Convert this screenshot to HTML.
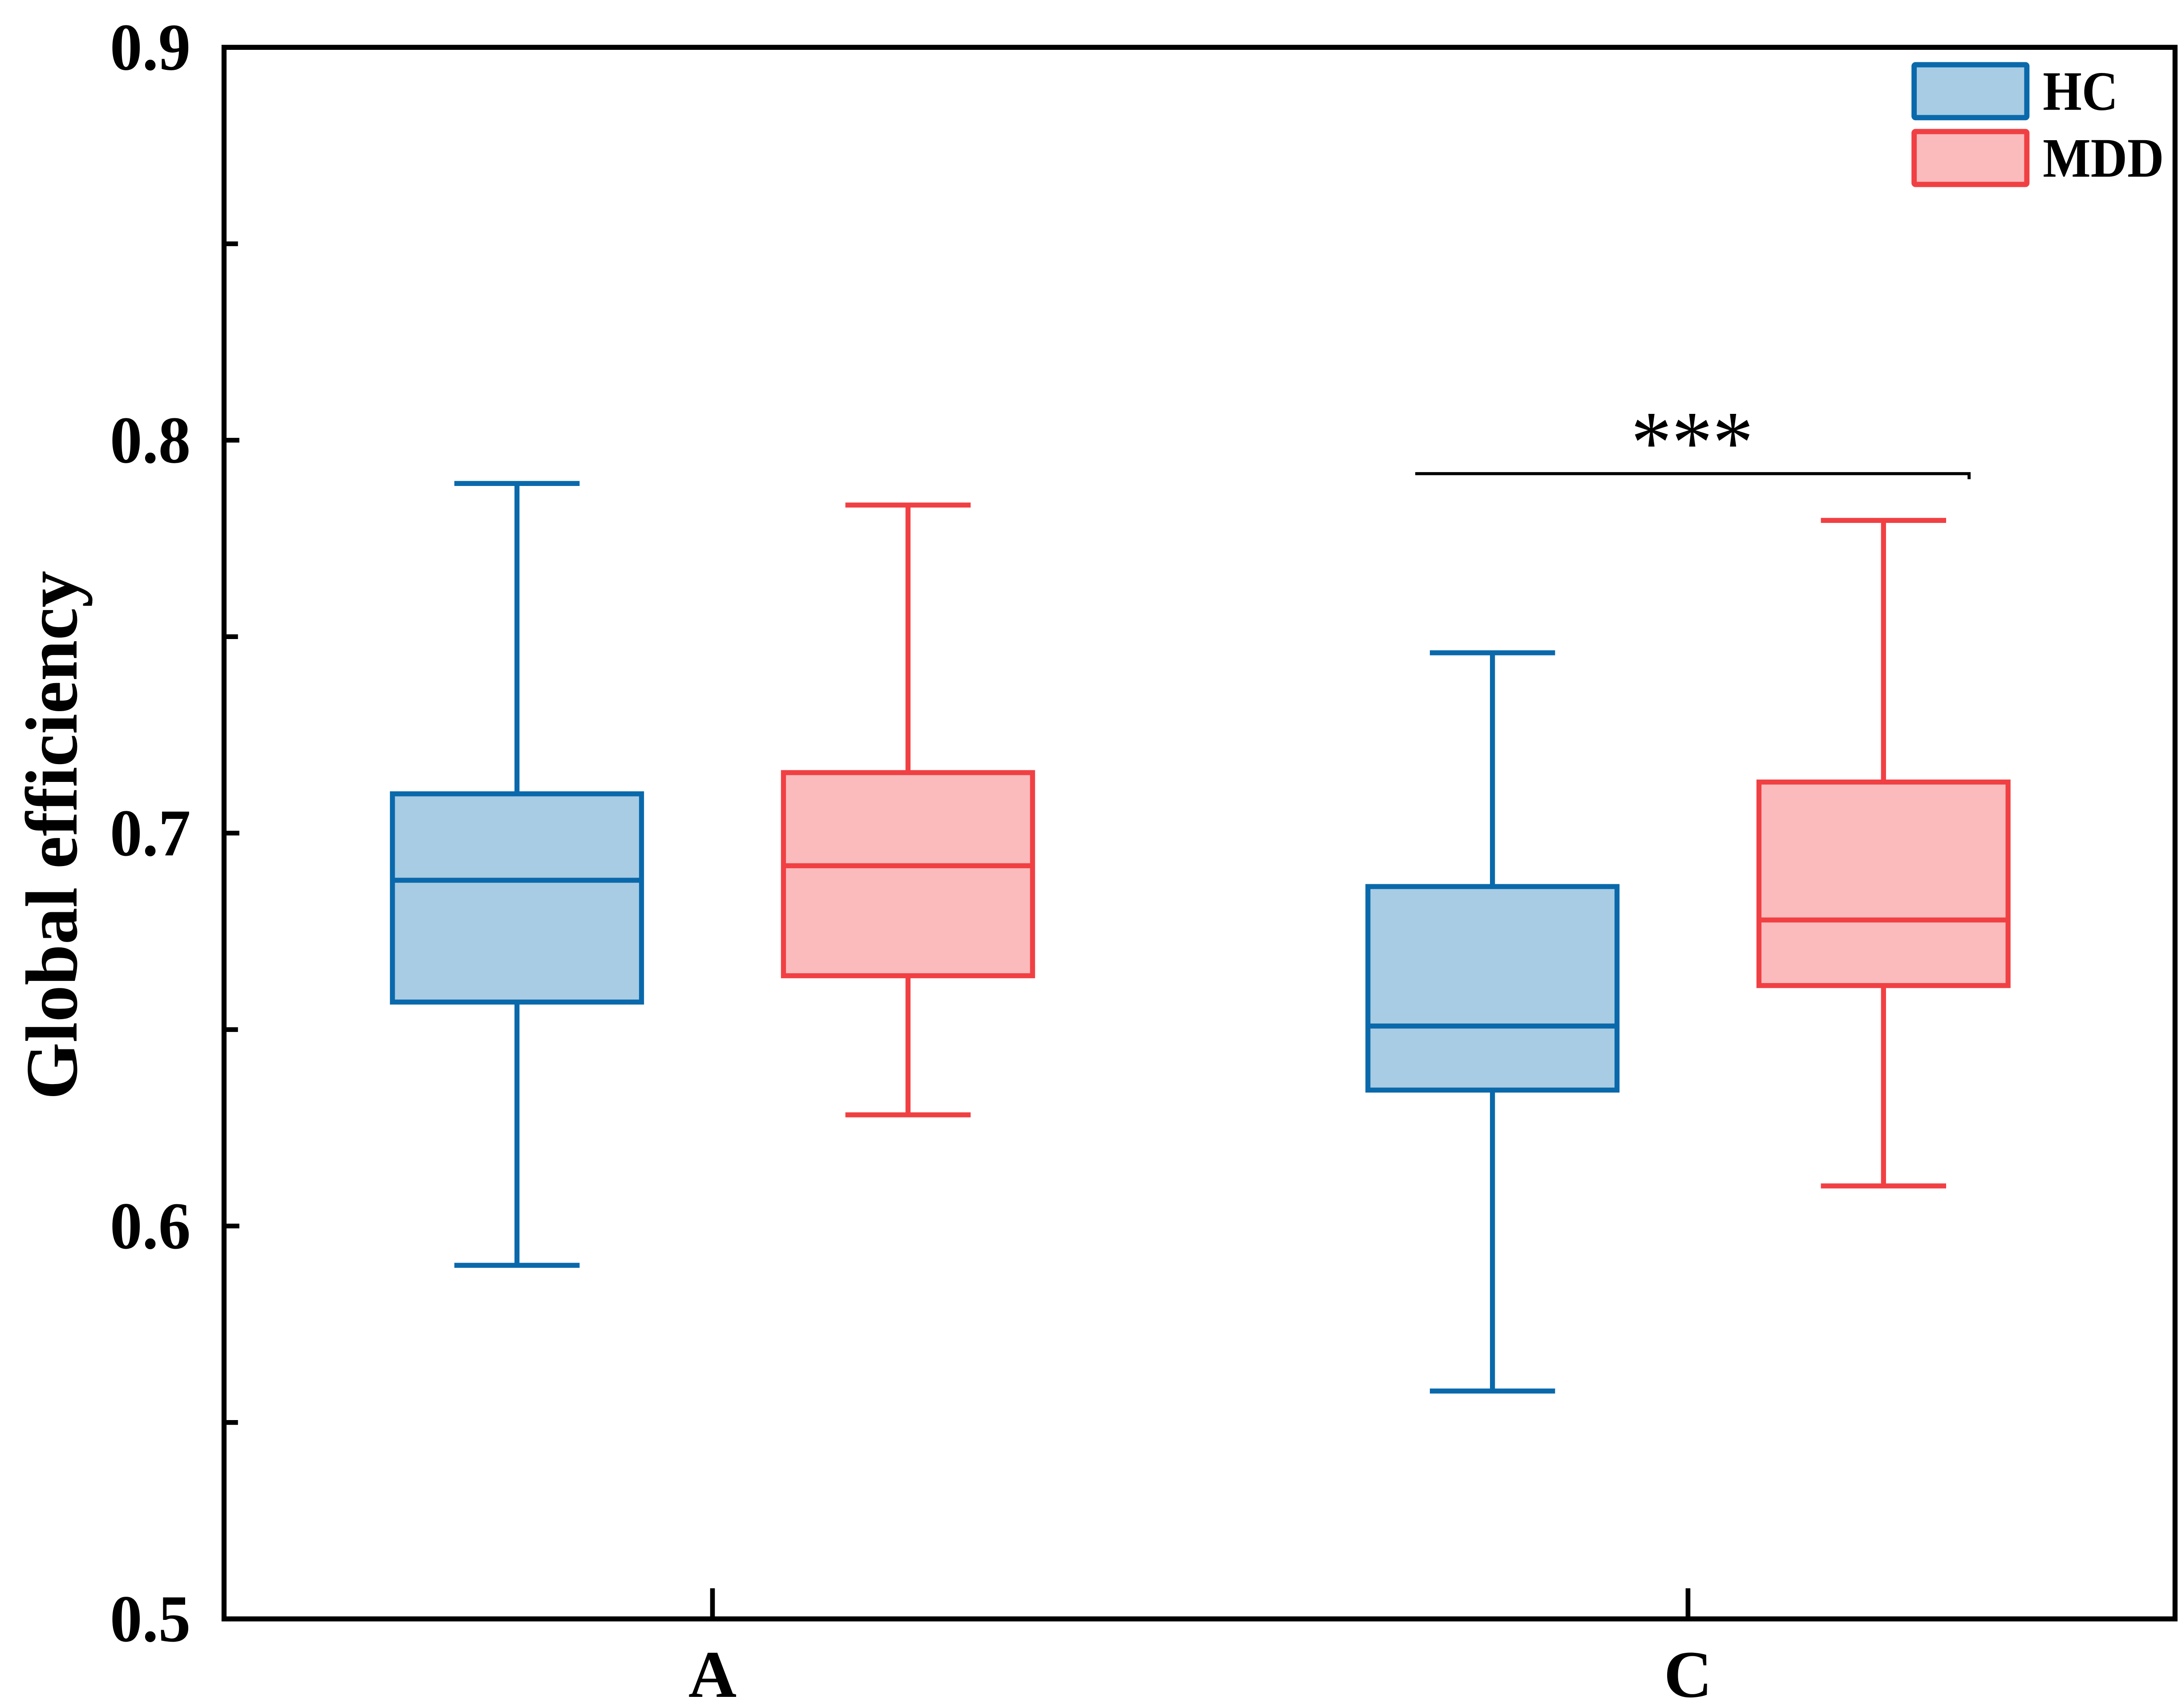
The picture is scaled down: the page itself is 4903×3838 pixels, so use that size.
<!DOCTYPE html>
<html><head><meta charset="utf-8"><style>
html,body{margin:0;padding:0;background:#fff;}
svg{display:block;}
</style></head><body>
<svg id="chart" width="4903" height="3838" viewBox="0 0 1568 1227" preserveAspectRatio="none" xmlns="http://www.w3.org/2000/svg" font-family="'Liberation Serif', 'Times New Roman', serif" font-weight="bold">
<g id="marks"></g>
<g id="axes"></g>
</svg>
<script>
const categories = ["A", "C"];
const seriesNames = ["HC", "MDD"];
const hcStats = [
  [0.590, 0.657, 0.688, 0.710, 0.789],
  [0.558, 0.6346, 0.6509, 0.6864, 0.7459]
];
const mddStats = [
  [0.6283, 0.6637, 0.6917, 0.7154, 0.7835],
  [0.6102, 0.6612, 0.6779, 0.7130, 0.7796]
];
const yTicks = [0.5, 0.6, 0.7, 0.8, 0.9];
const yTickLabels = ["0.5", "0.6", "0.7", "0.8", "0.9"];
const yMinor = [0.55, 0.65, 0.75, 0.85];
const sigLevel = 0.7915;
const sigLabel = "***";

const NS = "http://www.w3.org/2000/svg";
const FONT = "'Liberation Serif', 'Times New Roman', serif";
const L = 161, R = 1563, T = 34, B = 1163;
const yMin = 0.5, yMax = 0.9;
function y(v){ return B - (v - yMin) / (yMax - yMin) * (B - T); }
const catX = [512, 1213];
function x(i){ return catX[i]; }
const offset = 140.5, boxW = 179, capW = 90;
const colors = [{stroke:"#0A69AB", fill:"#A8CCE3"}, {stroke:"#F04043", fill:"#FBBBBD"}];
const legendTextLen = [54, 87];
const marks = document.getElementById("marks");
const axes = document.getElementById("axes");
function mk(tag, attrs, parent){
  const e = document.createElementNS(NS, tag);
  for (const k in attrs) e.setAttribute(k, attrs[k]);
  if (tag === "text") { e.setAttribute("font-family", FONT); if (!attrs["font-weight"]) e.setAttribute("font-weight", "bold"); e.setAttribute("fill", "#000"); }
  parent.appendChild(e);
  return e;
}
[hcStats, mddStats].forEach((stats, s) => {
  const c = colors[s];
  stats.forEach((st, i) => {
    const cx = x(i) + (s === 0 ? -offset : offset);
    const g = mk("g", {}, marks);
    
    
    const sw = 3.6;
    mk("line", {x1:cx, x2:cx, y1:y(st[4]), y2:y(st[3]), stroke:c.stroke, "stroke-width":sw}, g);
    mk("line", {x1:cx, x2:cx, y1:y(st[1]), y2:y(st[0]), stroke:c.stroke, "stroke-width":sw}, g);
    mk("line", {x1:cx-capW/2, x2:cx+capW/2, y1:y(st[4]), y2:y(st[4]), stroke:c.stroke, "stroke-width":sw}, g);
    mk("line", {x1:cx-capW/2, x2:cx+capW/2, y1:y(st[0]), y2:y(st[0]), stroke:c.stroke, "stroke-width":sw}, g);
    mk("rect", {x:cx-boxW/2, y:y(st[3]), width:boxW, height:y(st[1])-y(st[3]), fill:c.fill, stroke:c.stroke, "stroke-width":sw}, g);
    mk("line", {x1:cx-boxW/2, x2:cx+boxW/2, y1:y(st[2]), y2:y(st[2]), stroke:c.stroke, "stroke-width":sw}, g);
  });
});
const frame = mk("rect", {x:L, y:T, width:R-L, height:B-T, fill:"none", stroke:"#000", "stroke-width":3.6}, axes);


yTicks.forEach((v, i) => {
  mk("line", {x1:L, x2:L+11, y1:y(v), y2:y(v), stroke:"#000", "stroke-width":3.4}, axes);
  const t = mk("text", {x:137, y:y(v)+16, "text-anchor":"end", "font-size":48, textLength:58, lengthAdjust:"spacingAndGlyphs"}, axes);
  
  
  t.textContent = yTickLabels[i];
});
yMinor.forEach(v => {
  mk("line", {x1:L, x2:L+10, y1:y(v), y2:y(v), stroke:"#000", "stroke-width":3.4}, axes);
});
categories.forEach((c, i) => {
  mk("line", {x1:x(i), x2:x(i), y1:B, y2:B-22, stroke:"#000", "stroke-width":3.4}, axes);
  const t = mk("text", {x:x(i), y:1219, "text-anchor":"middle", "font-size":48}, axes);
  
  
  t.textContent = c;
});
const yt = mk("text", {x:0, y:0, "text-anchor":"middle", "font-size":53, transform:"translate(55,600) rotate(-90)", textLength:380, lengthAdjust:"spacingAndGlyphs"}, axes);


yt.textContent = "Global efficiency";
const sy = y(sigLevel);
const sig = mk("path", {d:`M${x(1)-196},${sy} L${x(1)+202},${sy} L${x(1)+202},${sy+4}`, fill:"none", stroke:"#000", "stroke-width":2.2}, axes);


const st = mk("text", {x:x(1)+3, y:sy-1, "text-anchor":"middle", "font-size":64, "font-weight":"normal", textLength:88, lengthAdjust:"spacingAndGlyphs"}, axes);


st.textContent = sigLabel;
seriesNames.forEach((n, s) => {
  const g = mk("g", {}, axes);
  
  
  const ty = 45 + s * 48;
  mk("rect", {x:1375.5, y:ty+1.5, width:81, height:38, fill:colors[s].fill, stroke:colors[s].stroke, "stroke-width":3.8, rx:1}, g);
  const t = mk("text", {x:1468, y:ty+34, "font-size":40, textLength:legendTextLen[s], lengthAdjust:"spacingAndGlyphs"}, g);
  t.textContent = n;
});
</script>
</body></html>
